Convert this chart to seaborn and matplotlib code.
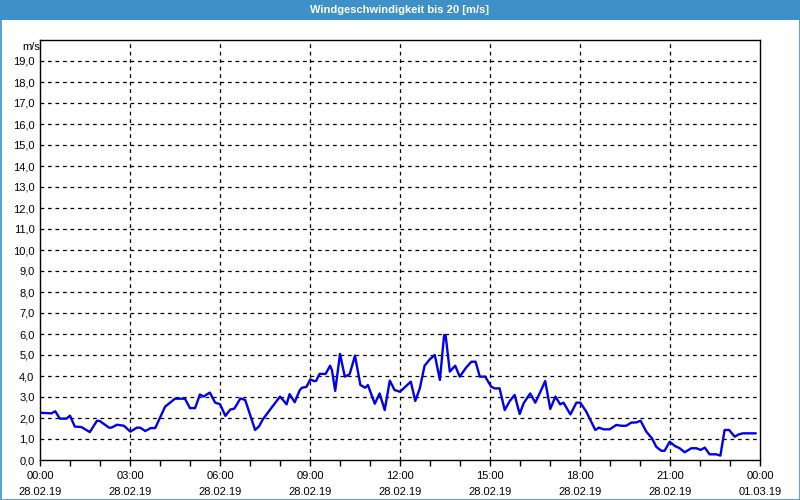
import matplotlib
matplotlib.use("Agg")
import matplotlib.pyplot as plt
from matplotlib.patches import Rectangle
import seaborn as sns
import pandas as pd

# time of day in hours (28.02.19) and wind speed in m/s
hours = [0.0, 0.38, 0.51, 0.66, 0.88, 1.0, 1.16, 1.38, 1.66, 1.9, 1.99, 2.3, 2.38, 2.57, 2.8,
         3.01, 3.23, 3.34, 3.51, 3.69, 3.84, 4.17, 4.31, 4.5, 4.83, 5.0, 5.17, 5.33, 5.45,
         5.66, 5.84, 6.0, 6.18, 6.34, 6.48, 6.68, 6.84, 7.17, 7.3, 7.43, 7.66, 8.0, 8.1,
         8.22, 8.32, 8.49, 8.66, 8.73, 8.88, 9.01, 9.13, 9.2, 9.32, 9.52, 9.67, 9.73, 9.84,
         10.0, 10.16, 10.32, 10.5, 10.68, 10.84, 10.93, 11.16, 11.32, 11.49, 11.66, 11.82,
         12.0, 12.36, 12.51, 12.66, 12.82, 12.99, 13.16, 13.33, 13.47, 13.52, 13.66, 13.84,
         13.99, 14.21, 14.38, 14.52, 14.66, 14.84, 15.04, 15.16, 15.32, 15.49, 15.66, 15.82,
         15.99, 16.12, 16.34, 16.51, 16.68, 16.84, 17.01, 17.18, 17.34, 17.45, 17.68, 17.88,
         18.01, 18.21, 18.32, 18.51, 18.63, 18.79, 18.99, 19.21, 19.38, 19.54, 19.71, 19.88,
         20.02, 20.21, 20.4, 20.54, 20.71, 20.82, 20.99, 21.16, 21.32, 21.49, 21.71, 21.88,
         22.02, 22.16, 22.32, 22.54, 22.68, 22.82, 22.97, 23.16, 23.29, 23.43, 23.86]
speed = [2.25, 2.22, 2.32, 1.97, 1.97, 2.11, 1.59, 1.57, 1.33, 1.87, 1.86, 1.54, 1.54, 1.68, 1.63,
         1.35, 1.54, 1.54, 1.38, 1.52, 1.52, 2.54, 2.7, 2.92, 2.92, 2.47, 2.47, 3.12, 3.02,
         3.21, 2.73, 2.66, 2.1, 2.4, 2.45, 2.93, 2.86, 1.43, 1.6, 1.94, 2.38, 3.02, 2.86,
         2.65, 3.14, 2.75, 3.33, 3.44, 3.48, 3.84, 3.76, 3.76, 4.1, 4.1, 4.49, 4.29, 3.29,
         5.05, 3.97, 4.08, 4.97, 3.57, 3.44, 3.57, 2.68, 3.17, 2.38, 3.78, 3.33,
         3.25, 3.73, 2.81, 3.41, 4.49, 4.79, 5.0, 3.81, 5.95, 5.95, 4.21, 4.49,
         3.97, 4.41, 4.68, 4.68, 3.97, 3.97, 3.49, 3.41, 3.41, 2.38, 2.81, 3.1,
         2.19, 2.7, 3.17, 2.73, 3.25, 3.76, 2.43, 3.02, 2.65, 2.73, 2.17, 2.73,
         2.73, 2.3, 1.98, 1.43, 1.54, 1.46, 1.46, 1.67, 1.63, 1.63, 1.78, 1.79,
         1.87, 1.35, 1.03, 0.63, 0.44, 0.44, 0.87, 0.67, 0.56, 0.37, 0.56, 0.56,
         0.48, 0.59, 0.27, 0.27, 0.21, 1.43, 1.43, 1.11, 1.22, 1.27, 1.27]

x_tick_hours = [0, 3, 6, 9, 12, 15, 18, 21, 24]
x_tick_labels = ["00:00\n28.02.19", "03:00\n28.02.19", "06:00\n28.02.19", "09:00\n28.02.19",
                 "12:00\n28.02.19", "15:00\n28.02.19", "18:00\n28.02.19", "21:00\n28.02.19",
                 "00:00\n01.03.19"]
y_ticks = list(range(0, 20))
y_tick_labels = [f"{v},0" for v in y_ticks]
title = "Windgeschwindigkeit bis 20 [m/s]"
unit = "m/s"

sns.set_theme(style="white")
plt.rcParams["font.family"] = ["Liberation Sans", "DejaVu Sans"]

fig = plt.figure(figsize=(8, 5), dpi=100, facecolor="white")
ax = fig.add_axes([40 / 800, 40 / 500, 720 / 800, 420 / 500])

df = pd.DataFrame({"hours": hours, "speed": speed})
sns.lineplot(data=df, x="hours", y="speed", ax=ax, color="#0000ee", linewidth=1.7,
             sort=False, errorbar=None)

ax.set_xlim(0, 24)
ax.set_ylim(0, 20)
ax.set_xticks(x_tick_hours)
ax.set_xticklabels(x_tick_labels, fontsize=8, linespacing=1.75)
ax.set_xticks(range(0, 25), minor=True)
ax.set_yticks(y_ticks)
ax.set_yticklabels(y_tick_labels, fontsize=8)
ax.set_xlabel("")
ax.set_ylabel("")

ax.tick_params(axis="x", which="both", direction="out", length=4, width=1, color="black",
               bottom=True, pad=4, labelcolor="black")
ax.tick_params(axis="y", which="both", length=0, pad=4, labelcolor="black")

for s in ax.spines.values():
    s.set_color("black")
    s.set_linewidth(1)

for yv in range(1, 20):
    ax.axhline(yv, color="black", linewidth=0.9, linestyle=(0, (3, 3)), zorder=0)
for xv in x_tick_hours[1:-1]:
    ax.axvline(xv, color="black", linewidth=0.9, linestyle=(0, (3, 3)), zorder=0)

ax.text(-0.005, 19.65, unit, transform=ax.transData, ha="right", va="center", fontsize=8,
        color="black")
ax.set_facecolor("white")

# title bar
fig.patches.append(Rectangle((0, 480 / 500), 1, 20 / 500, transform=fig.transFigure,
                             facecolor="#3d91c8", edgecolor="none", zorder=0))
fig.patches.append(Rectangle((0.5 / 800, 0.5 / 500), 799 / 800, 499 / 500,
                             transform=fig.transFigure, facecolor="none",
                             edgecolor="#3d91c8", linewidth=1.2, zorder=1))
fig.text(0.5, 490 / 500, title, ha="center", va="center", color="white", fontsize=8,
         fontweight="bold")

fig.savefig("out.png", dpi=100, facecolor="white")
